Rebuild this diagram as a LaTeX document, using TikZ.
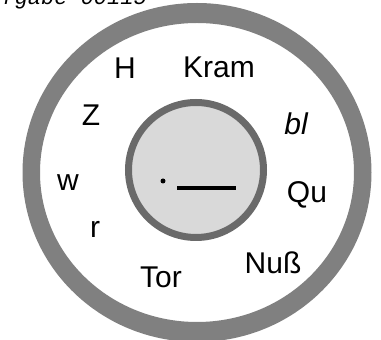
\documentclass[tikz,border=0pt]{standalone}
\usepackage{fontspec}
\setmainfont{Liberation Sans}
\newfontfamily\monofont{Liberation Mono}
\newfontfamily\handfont{DejaVu Sans ExtraLight}
\definecolor{ringgray}{HTML}{808080}
\definecolor{innerstroke}{HTML}{6A6A6A}
\definecolor{innerfill}{HTML}{D9D9D9}
\begin{document}
\begin{tikzpicture}[x=1pt,y=1pt,
  lbl/.style={inner sep=0pt, font=\fontsize{30}{34}\selectfont},
  hand/.style={inner sep=0pt, font=\fontsize{30}{34}\selectfont\itshape}]
\clip (0,0) rectangle (381,340);
\fill[white] (0,0) rectangle (381,340);
% outer ring
\fill[ringgray, even odd rule] (197,167.5) ellipse [x radius=174.5, y radius=169.5]
                               (197,167.5) ellipse [x radius=157, y radius=149.5];
% inner circle
\node[circle, draw=innerstroke, fill=innerfill, line width=7pt, minimum size=135pt, inner sep=0pt] (core) at (196,170) {};
\fill[black] (163,159) circle (2.5) coordinate (dot);
\coordinate (blankA) at (177,152);
\coordinate (blankB) at (236,152);
\draw[black, line width=3.5pt] (blankA) -- (blankB);
% header (cut off at top)
\node[anchor=base east, inner sep=0pt, font=\monofont\itshape\fontsize{22}{24}\selectfont] (title) at (147,335) {Aufgabe 00115};
% labels
\node[lbl] (h) at (125,272) {H};
\node[lbl] (kram) at (219,273) {Kram};
\node[hand] (bl) at (296,216) {bl};
\node[lbl] (z) at (91,225) {Z};
\node[lbl] (w) at (68,157) {w};
\node[lbl] (qu) at (307,145) {Qu};
\node[lbl] (r) at (95,111) {r};
\node[lbl] (nuss) at (273,77) {Nuß};
\node[lbl] (tor) at (161,63) {Tor};
\end{tikzpicture}
\end{document}
